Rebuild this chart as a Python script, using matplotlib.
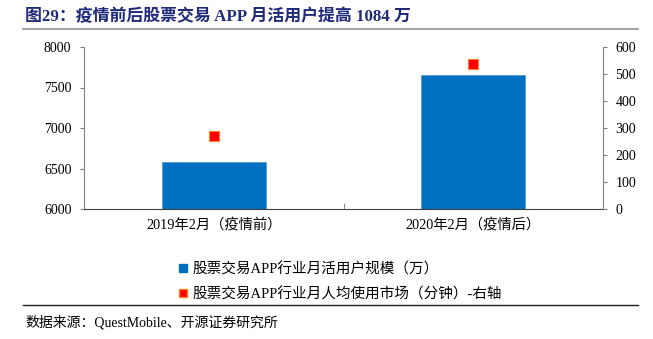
import matplotlib
matplotlib.use("Agg")
import matplotlib.pyplot as plt
from matplotlib.lines import Line2D
import numpy as np

plt.rcParams['font.family'] = ['Liberation Serif', 'Noto Sans CJK SC', 'DejaVu Sans']

categories = ["2019年2月（疫情前）", "2020年2月（疫情后）"]
mau = [6576, 7660]
minutes = [269, 536]
left_ticks = [6000, 6500, 7000, 7500, 8000]
right_ticks = [0, 100, 200, 300, 400, 500, 600]
series_names = ["股票交易APP行业月活用户规模（万）", "股票交易APP行业月人均使用市场（分钟）-右轴"]
title = "图29：疫情前后股票交易 APP 月活用户提高 1084 万"
source = "数据来源：QuestMobile、开源证券研究所"

W, H = 653, 339
fig = plt.figure(figsize=(W/100, H/100), dpi=100)

ax = fig.add_axes([84/W, 1-209/H, (603-84)/W, (209-47)/H])
x = np.arange(len(categories))
ax.bar(x, [v - 6000 for v in mau], bottom=6000, width=0.4, color='#0070C0',
       edgecolor='#5B9BD5', linewidth=0.6, zorder=2)
ax.set_xlim(-0.5, 1.5)
ax.set_ylim(6000, 8000)
ax.set_yticks(left_ticks)
ax.set_yticklabels([str(t) for t in left_ticks], fontsize=10)
ax.set_xticks(x)
ax.set_xticklabels(categories, fontsize=10.3)
ax.tick_params(axis='x', length=0, pad=6)
ax.set_xticks([0.5], minor=True)
ax.tick_params(axis='x', which='minor', direction='in', length=4, color='#808080')
ax.tick_params(axis='y', direction='out', length=3, color='#808080', pad=6)
for s in ['top', 'right']:
    ax.spines[s].set_visible(False)
ax.spines['left'].set_color('#808080')
ax.spines['bottom'].set_color('#404040')

ax2 = ax.twinx()
ax2.scatter(x, minutes, marker='s', s=55, color='#FF0000', edgecolor='#FF7F27',
            linewidth=0.8, zorder=3)
ax2.set_ylim(0, 600)
ax2.set_yticks(right_ticks)
ax2.set_yticklabels([str(t) for t in right_ticks], fontsize=10)
ax2.tick_params(axis='y', direction='out', length=3, color='#808080', pad=6)
for s in ['top', 'left', 'bottom']:
    ax2.spines[s].set_visible(False)
ax2.spines['right'].set_color('#808080')

handles = [
    Line2D([], [], marker='s', linestyle='none', markersize=6, color='#0070C0'),
    Line2D([], [], marker='s', linestyle='none', markersize=6, color='#FF0000',
           markeredgecolor='#FF7F27'),
]
fig.legend(handles, series_names, loc='upper left', bbox_to_anchor=(179/W, 1-262/H),
           frameon=False, fontsize=10.5, handlelength=0.6, handletextpad=0.3,
           labelspacing=0.75, borderaxespad=0, borderpad=0)

fig.text(25/W, 1-17/H, title, fontsize=12.2, fontweight='bold', color='#1F2A7A',
         va='center', ha='left')
fig.add_artist(Line2D([23/W, 638/W], [1-29/H, 1-29/H], color='#909090', linewidth=1.2))
fig.add_artist(Line2D([23/W, 638/W], [1-305/H, 1-305/H], color='#202020', linewidth=1.0))
fig.text(25/W, 1-322/H, source, fontsize=10, va='center', ha='left', color='#000000')

fig.savefig('out.png', dpi=100)
